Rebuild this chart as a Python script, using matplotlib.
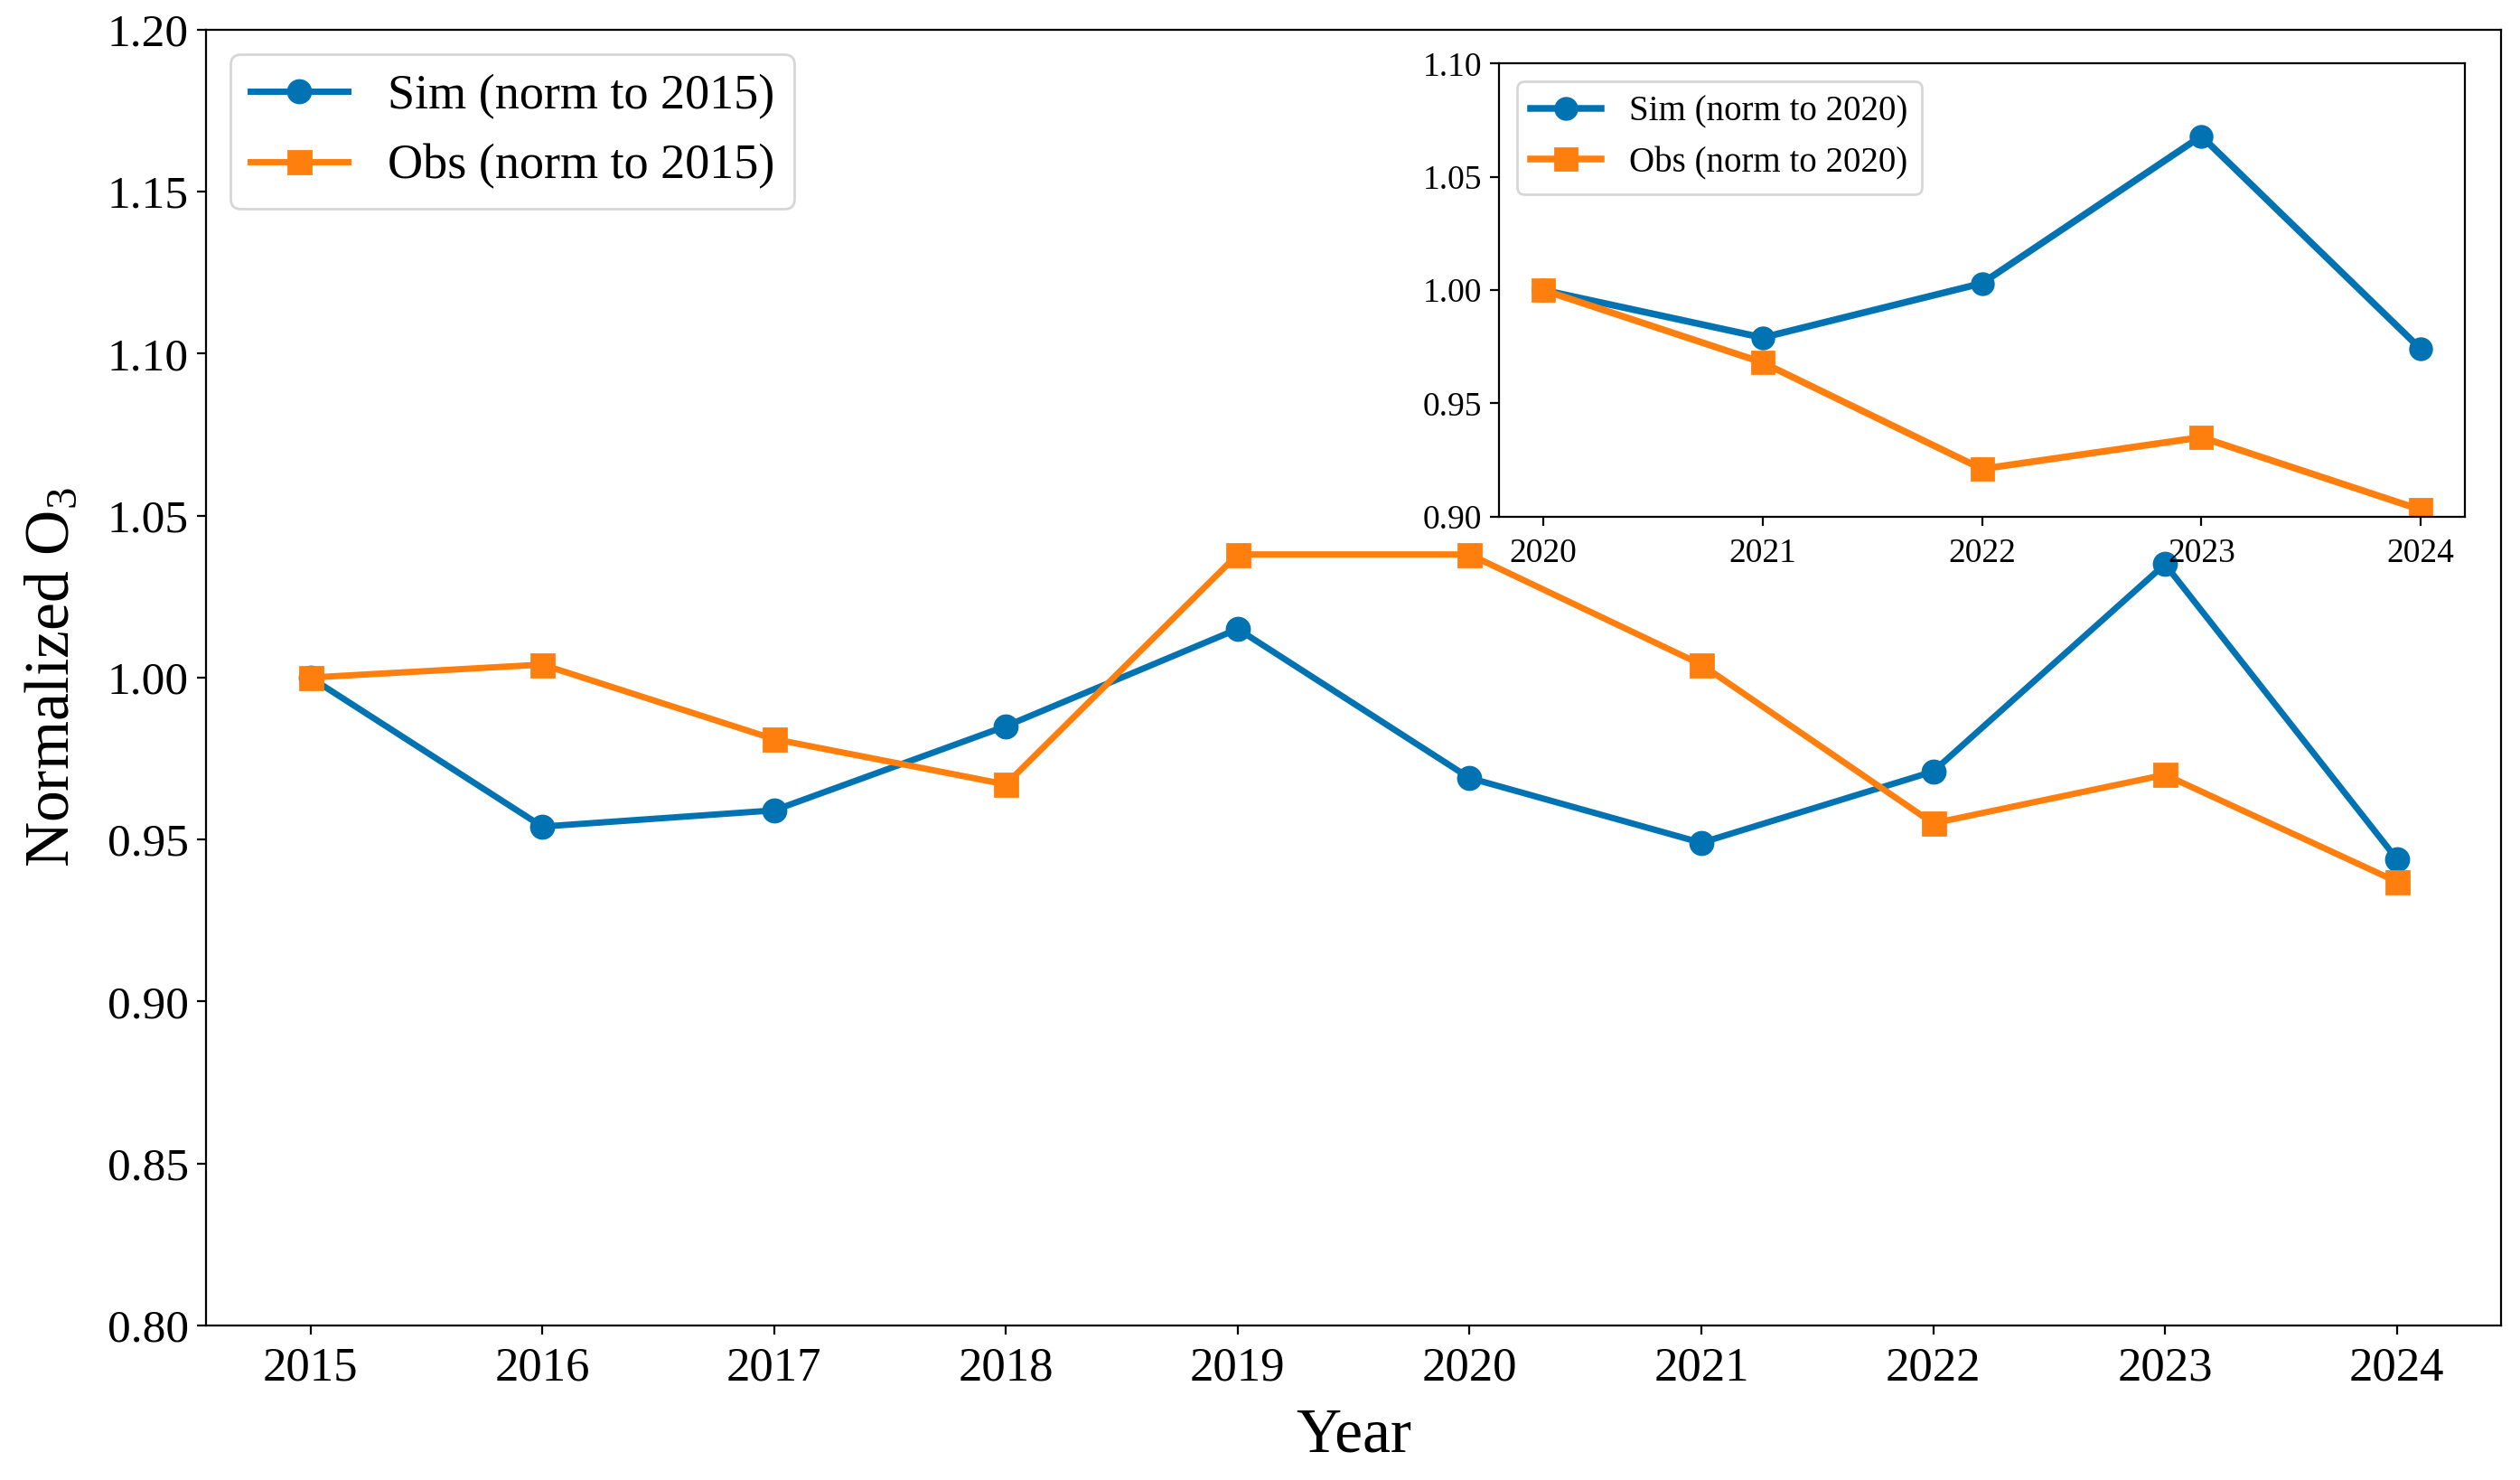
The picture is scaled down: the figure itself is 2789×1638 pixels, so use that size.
import matplotlib
matplotlib.use('Agg')
import matplotlib.pyplot as plt

plt.rcParams['font.family'] = ['Liberation Serif', 'DejaVu Serif']
plt.rcParams['mathtext.default'] = 'regular'

# main series (normalised to 2015)
years = [2015, 2016, 2017, 2018, 2019, 2020, 2021, 2022, 2023, 2024]
sim_2015 = [1.000, 0.954, 0.959, 0.985, 1.015, 0.969, 0.949, 0.971, 1.035, 0.944]
obs_2015 = [1.000, 1.004, 0.981, 0.967, 1.038, 1.038, 1.004, 0.955, 0.970, 0.937]

# inset series (normalised to 2020)
years_in = [2020, 2021, 2022, 2023, 2024]
sim_2020 = [1.000, 0.979, 1.003, 1.068, 0.974]
obs_2020 = [1.000, 0.968, 0.921, 0.935, 0.903]

blue = '#0173b2'
orange = '#ff7f0e'

fig = plt.figure(figsize=(13.945, 8.19), dpi=200)
ax = fig.add_axes([0.0818, 0.1044, 0.9107, 0.8756])
ax.plot(years, sim_2015, '-o', color=blue, lw=2.5, ms=9, label='Sim (norm to 2015)')
ax.plot(years, obs_2015, '-s', color=orange, lw=2.5, ms=9, label='Obs (norm to 2015)')
ax.set_ylim(0.80, 1.20)
ax.set_xticks(years)
ax.set_yticks([0.80, 0.85, 0.90, 0.95, 1.00, 1.05, 1.10, 1.15, 1.20])
ax.set_yticklabels(['%.2f' % v for v in ax.get_yticks()])
ax.tick_params(axis='y', labelsize=18.5)
ax.tick_params(axis='x', labelsize=19, pad=5)
ax.set_xlabel('Year', fontsize=25, labelpad=7)
ax.set_ylabel('Normalized O$_3$', fontsize=25, labelpad=10)
ax.legend(loc='upper left', fontsize=19.5)

# inset
axin = fig.add_axes([0.595, 0.651, 0.383, 0.306])
axin.plot(years_in, sim_2020, '-o', color=blue, lw=2.7, ms=8.5, label='Sim (norm to 2020)')
axin.plot(years_in, obs_2020, '-s', color=orange, lw=2.7, ms=8.5, label='Obs (norm to 2020)')
axin.set_ylim(0.90, 1.10)
axin.set_xticks(years_in)
axin.set_yticks([0.90, 0.95, 1.00, 1.05, 1.10])
axin.set_yticklabels(['%.2f' % v for v in axin.get_yticks()])
axin.tick_params(labelsize=13.5)
axin.tick_params(axis='x', pad=5)
axin.legend(loc='upper left', fontsize=14)

fig.savefig('out.png', dpi=200)
